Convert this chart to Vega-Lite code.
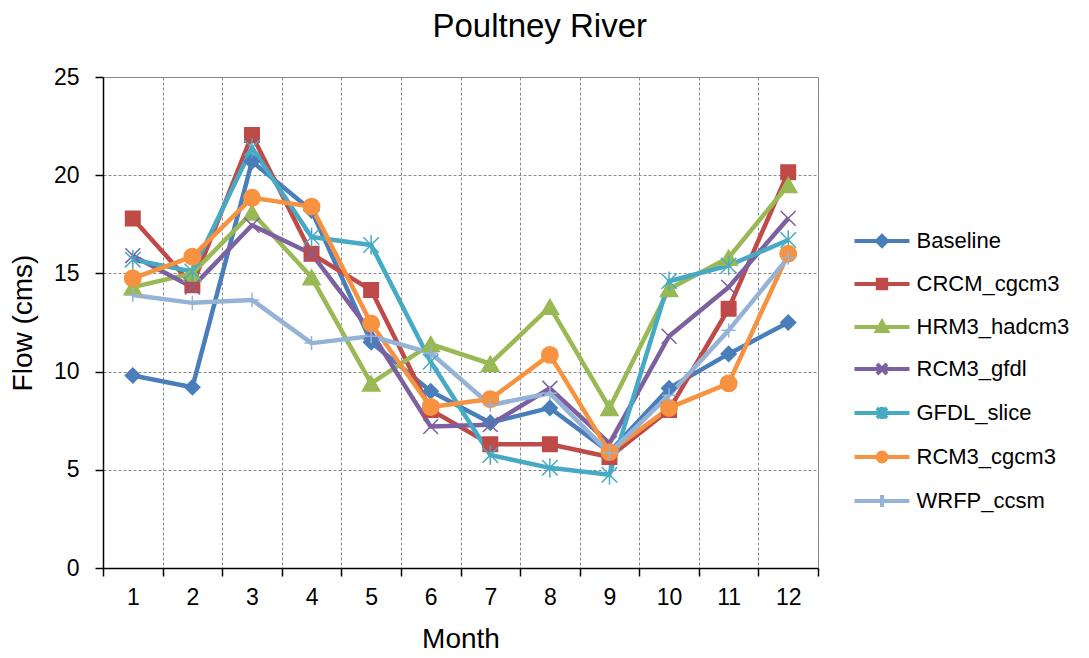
{
  "$schema": "https://vega.github.io/schema/vega-lite/v6.json",
  "width": 715,
  "height": 491,
  "autosize": {"type": "none"},
  "padding": {"left": 103, "top": 77, "right": 271, "bottom": 90},
  "background": "white",
  "config": {
    "font": "Liberation Sans",
    "view": {"stroke": "#868686", "strokeWidth": 1},
    "axis": {
      "labelFont": "Liberation Sans", "titleFont": "Liberation Sans",
      "labelColor": "#000", "titleColor": "#000", "titleFontWeight": "normal",
      "domainColor": "#000", "domainWidth": 1.5, "tickColor": "#000", "tickWidth": 1.5, "tickSize": 8,
      "gridColor": "#8a8a8a", "gridDash": [3, 2], "gridWidth": 1,
      "labelFontSize": 23, "titleFontSize": 28
    }
  },
  "title": {"text": "Poultney River", "fontSize": 33, "fontWeight": "normal", "font": "Liberation Sans", "color": "#000", "anchor": "middle", "frame": "bounds", "offset": 22},
  "data": {"values": [
    {"month": 1, "series": "Baseline", "flow": 9.8},
    {"month": 2, "series": "Baseline", "flow": 9.2},
    {"month": 3, "series": "Baseline", "flow": 20.7},
    {"month": 4, "series": "Baseline", "flow": 18.2},
    {"month": 5, "series": "Baseline", "flow": 11.5},
    {"month": 6, "series": "Baseline", "flow": 9.0},
    {"month": 7, "series": "Baseline", "flow": 7.4},
    {"month": 8, "series": "Baseline", "flow": 8.15},
    {"month": 9, "series": "Baseline", "flow": 5.9},
    {"month": 10, "series": "Baseline", "flow": 9.15},
    {"month": 11, "series": "Baseline", "flow": 10.9},
    {"month": 12, "series": "Baseline", "flow": 12.5},
    {"month": 1, "series": "CRCM_cgcm3", "flow": 17.8},
    {"month": 2, "series": "CRCM_cgcm3", "flow": 14.4},
    {"month": 3, "series": "CRCM_cgcm3", "flow": 22.05},
    {"month": 4, "series": "CRCM_cgcm3", "flow": 16.0},
    {"month": 5, "series": "CRCM_cgcm3", "flow": 14.15},
    {"month": 6, "series": "CRCM_cgcm3", "flow": 8.05},
    {"month": 7, "series": "CRCM_cgcm3", "flow": 6.3},
    {"month": 8, "series": "CRCM_cgcm3", "flow": 6.3},
    {"month": 9, "series": "CRCM_cgcm3", "flow": 5.65},
    {"month": 10, "series": "CRCM_cgcm3", "flow": 8.05},
    {"month": 11, "series": "CRCM_cgcm3", "flow": 13.2},
    {"month": 12, "series": "CRCM_cgcm3", "flow": 20.15},
    {"month": 1, "series": "HRM3_hadcm3", "flow": 14.3},
    {"month": 2, "series": "HRM3_hadcm3", "flow": 15.0},
    {"month": 3, "series": "HRM3_hadcm3", "flow": 18.1},
    {"month": 4, "series": "HRM3_hadcm3", "flow": 14.8},
    {"month": 5, "series": "HRM3_hadcm3", "flow": 9.4},
    {"month": 6, "series": "HRM3_hadcm3", "flow": 11.4},
    {"month": 7, "series": "HRM3_hadcm3", "flow": 10.4},
    {"month": 8, "series": "HRM3_hadcm3", "flow": 13.3},
    {"month": 9, "series": "HRM3_hadcm3", "flow": 8.15},
    {"month": 10, "series": "HRM3_hadcm3", "flow": 14.2},
    {"month": 11, "series": "HRM3_hadcm3", "flow": 15.8},
    {"month": 12, "series": "HRM3_hadcm3", "flow": 19.5},
    {"month": 1, "series": "RCM3_gfdl", "flow": 15.9},
    {"month": 2, "series": "RCM3_gfdl", "flow": 14.3},
    {"month": 3, "series": "RCM3_gfdl", "flow": 17.45},
    {"month": 4, "series": "RCM3_gfdl", "flow": 16.0},
    {"month": 5, "series": "RCM3_gfdl", "flow": 12.0},
    {"month": 6, "series": "RCM3_gfdl", "flow": 7.2},
    {"month": 7, "series": "RCM3_gfdl", "flow": 7.3},
    {"month": 8, "series": "RCM3_gfdl", "flow": 9.15},
    {"month": 9, "series": "RCM3_gfdl", "flow": 6.35},
    {"month": 10, "series": "RCM3_gfdl", "flow": 11.8},
    {"month": 11, "series": "RCM3_gfdl", "flow": 14.3},
    {"month": 12, "series": "RCM3_gfdl", "flow": 17.8},
    {"month": 1, "series": "GFDL_slice", "flow": 15.7},
    {"month": 2, "series": "GFDL_slice", "flow": 15.1},
    {"month": 3, "series": "GFDL_slice", "flow": 21.4},
    {"month": 4, "series": "GFDL_slice", "flow": 16.85},
    {"month": 5, "series": "GFDL_slice", "flow": 16.45},
    {"month": 6, "series": "GFDL_slice", "flow": 10.5},
    {"month": 7, "series": "GFDL_slice", "flow": 5.75},
    {"month": 8, "series": "GFDL_slice", "flow": 5.1},
    {"month": 9, "series": "GFDL_slice", "flow": 4.75},
    {"month": 10, "series": "GFDL_slice", "flow": 14.6},
    {"month": 11, "series": "GFDL_slice", "flow": 15.4},
    {"month": 12, "series": "GFDL_slice", "flow": 16.7},
    {"month": 1, "series": "RCM3_cgcm3", "flow": 14.75},
    {"month": 2, "series": "RCM3_cgcm3", "flow": 15.85},
    {"month": 3, "series": "RCM3_cgcm3", "flow": 18.85},
    {"month": 4, "series": "RCM3_cgcm3", "flow": 18.4},
    {"month": 5, "series": "RCM3_cgcm3", "flow": 12.45},
    {"month": 6, "series": "RCM3_cgcm3", "flow": 8.2},
    {"month": 7, "series": "RCM3_cgcm3", "flow": 8.6},
    {"month": 8, "series": "RCM3_cgcm3", "flow": 10.85},
    {"month": 9, "series": "RCM3_cgcm3", "flow": 5.9},
    {"month": 10, "series": "RCM3_cgcm3", "flow": 8.15},
    {"month": 11, "series": "RCM3_cgcm3", "flow": 9.4},
    {"month": 12, "series": "RCM3_cgcm3", "flow": 16.0},
    {"month": 1, "series": "WRFP_ccsm", "flow": 13.9},
    {"month": 2, "series": "WRFP_ccsm", "flow": 13.5},
    {"month": 3, "series": "WRFP_ccsm", "flow": 13.65},
    {"month": 4, "series": "WRFP_ccsm", "flow": 11.45},
    {"month": 5, "series": "WRFP_ccsm", "flow": 11.8},
    {"month": 6, "series": "WRFP_ccsm", "flow": 10.95},
    {"month": 7, "series": "WRFP_ccsm", "flow": 8.3},
    {"month": 8, "series": "WRFP_ccsm", "flow": 8.9},
    {"month": 9, "series": "WRFP_ccsm", "flow": 5.85},
    {"month": 10, "series": "WRFP_ccsm", "flow": 8.8},
    {"month": 11, "series": "WRFP_ccsm", "flow": 12.1},
    {"month": 12, "series": "WRFP_ccsm", "flow": 15.8}
  ]},
  "encoding": {
    "x": {"field": "month", "type": "quantitative",
      "scale": {"domain": [0.5, 12.5], "nice": false, "zero": false},
      "axis": {"title": "Month", "values": [0.5, 1.5, 2.5, 3.5, 4.5, 5.5, 6.5, 7.5, 8.5, 9.5, 10.5, 11.5, 12.5],
        "labelExpr": "datum.value < 12 ? '' + (datum.value + 0.5) : ''",
        "labelOffset": 29.8, "labelFlush": false, "labelOverlap": false, "labelBound": false,
        "labelPadding": 10, "titlePadding": 16, "grid": true}},
    "y": {"field": "flow", "type": "quantitative",
      "scale": {"domain": [0, 25], "nice": false},
      "axis": {"title": "Flow (cms)", "values": [0, 5, 10, 15, 20, 25], "labelPadding": 16, "titlePadding": 16, "grid": true}}
  },
  "layer": [
    {
      "mark": {"type": "line", "strokeWidth": 4.5, "strokeJoin": "round"},
      "encoding": {
        "color": {"field": "series", "type": "nominal",
          "scale": {"domain": ["Baseline", "CRCM_cgcm3", "HRM3_hadcm3", "RCM3_gfdl", "GFDL_slice", "RCM3_cgcm3", "WRFP_ccsm"],
            "range": ["#4A7EBB", "#BE4B48", "#98B954", "#7D60A0", "#46AAC5", "#F69240", "#94B3D7"]},
          "legend": {"orient": "none", "legendX": 767, "legendY": 152, "title": null,
            "symbolSize": 400, "labelFontSize": 22, "labelFont": "Liberation Sans", "labelColor": "#000",
            "labelOffset": 22.5, "rowPadding": 17, "padding": 0,
            "encode": {"symbols": {"update": {
              "shape": {"signal": "datum.value === 'Baseline' ? 'M-2.75,0L2.75,0M-0.5,0L0,-0.5L0.5,0L0,0.5Z' : datum.value === 'CRCM_cgcm3' ? 'M-2.75,0L2.75,0M-0.42,-0.42L0.42,-0.42L0.42,0.42L-0.42,0.42Z' : datum.value === 'HRM3_hadcm3' ? 'M-2.75,0L2.75,0M0,-0.5L0.5,0.4L-0.5,0.4Z' : datum.value === 'RCM3_gfdl' ? 'M-2.75,0L2.75,0M-0.5,-0.5L0.5,0.5M-0.5,0.5L0.5,-0.5' : datum.value === 'GFDL_slice' ? 'M-2.75,0L2.75,0M-0.5,-0.5L0.5,0.5M-0.5,0.5L0.5,-0.5M0,-0.6L0,0.6' : datum.value === 'RCM3_cgcm3' ? 'M-2.75,0L2.75,0M-0.45,0A0.45,0.45 0 1,0 0.45,0A0.45,0.45 0 1,0 -0.45,0Z' : 'M-2.75,0L2.75,0M0,-0.6L0,0.6'"},
              "fill": {"scale": "color", "field": "value"},
              "stroke": {"scale": "color", "field": "value"},
              "strokeWidth": {"value": 4},
              "opacity": {"value": 1}
            }}}}
        }
      }
    },
    {"transform": [{"filter": {"field": "series", "equal": "Baseline"}}],
     "mark": {"type": "point", "shape": "diamond", "size": 225, "filled": true, "opacity": 1, "color": "#4A7EBB", "stroke": "#4A7EBB", "strokeWidth": 1.5}},
    {"transform": [{"filter": {"field": "series", "equal": "CRCM_cgcm3"}}],
     "mark": {"type": "point", "shape": "square", "size": 210, "filled": true, "opacity": 1, "color": "#BE4B48", "stroke": "#BE4B48", "strokeWidth": 1.5}},
    {"transform": [{"filter": {"field": "series", "equal": "HRM3_hadcm3"}}],
     "mark": {"type": "point", "shape": "triangle-up", "size": 300, "filled": true, "opacity": 1, "color": "#98B954", "stroke": "#98B954", "strokeWidth": 1.5}},
    {"transform": [{"filter": {"field": "series", "equal": "RCM3_gfdl"}}],
     "mark": {"type": "point", "shape": "M-1,-1L1,1M-1,1L1,-1", "size": 220, "filled": false, "opacity": 1, "color": "#7D60A0", "stroke": "#7D60A0", "strokeWidth": 1.5}},
    {"transform": [{"filter": {"field": "series", "equal": "GFDL_slice"}}],
     "mark": {"type": "point", "shape": "M-1,-1L1,1M-1,1L1,-1M0,-1.25L0,1.25", "size": 240, "filled": false, "opacity": 1, "color": "#46AAC5", "stroke": "#46AAC5", "strokeWidth": 1.5}},
    {"transform": [{"filter": {"field": "series", "equal": "RCM3_cgcm3"}}],
     "mark": {"type": "point", "shape": "circle", "size": 270, "filled": true, "opacity": 1, "color": "#F69240", "stroke": "#F69240", "strokeWidth": 1.5}},
    {"transform": [{"filter": {"field": "series", "equal": "WRFP_ccsm"}}],
     "mark": {"type": "point", "shape": "M-1,0L1,0M0,-1L0,1", "size": 200, "filled": false, "opacity": 1, "color": "#94B3D7", "stroke": "#94B3D7", "strokeWidth": 1.5}}
  ]
}
